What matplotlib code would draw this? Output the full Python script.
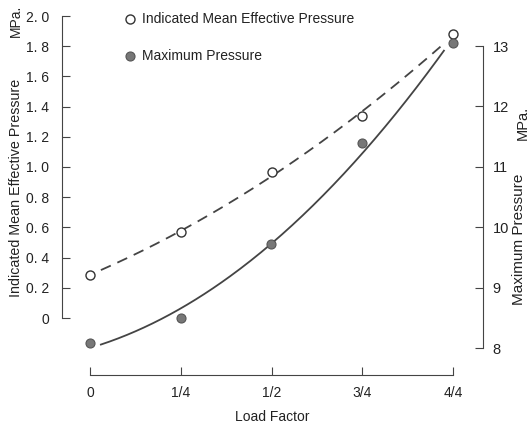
import numpy as np
import matplotlib
matplotlib.use("Agg")
import matplotlib.pyplot as plt
from matplotlib.lines import Line2D

plt.rcParams['font.family'] = ['Liberation Sans', 'DejaVu Sans']

load = [0.0, 0.25, 0.5, 0.75, 1.0]
load_labels = ['0', '1/4', '1/2', '3/4', '4/4']
imep = [0.285, 0.57, 0.967, 1.338, 1.881]      # MPa, left axis
pmax = [8.08, 8.50, 9.72, 11.39, 13.05]        # MPa, right axis
left_ticks = [0, 0.2, 0.4, 0.6, 0.8, 1.0, 1.2, 1.4, 1.6, 1.8, 2.0]
left_labels = ['0', '0. 2', '0. 4', '0. 6', '0. 8', '1. 0', '1. 2', '1. 4', '1. 6', '1. 8', '2. 0']
right_ticks = [8, 9, 10, 11, 12, 13]

W, H = 531, 424
fig = plt.figure(figsize=(W / 100, H / 100), dpi=100)
ax = fig.add_axes([62 / W, (H - 375) / H, (483 - 62) / W, (375 - 16) / H])
ax2 = ax.twinx()

col = '#444444'
tcol = '#222222'
ax.set_xlim(-28 / 363, (483 - 90) / 363)
ax.set_ylim(-57 / 151, 2.0)
ax2.set_ylim(8 - 27 / 60.4, 8 + 332 / 60.4)

# fitted curves
xs = np.linspace(0.03, 0.975, 200)
c1 = np.polyfit(load, imep, 2)
c2 = np.polyfit(load, pmax, 2)
ax.plot(xs, np.polyval(c1, xs), color=col, lw=1.3, dashes=(6, 4))
ax2.plot(xs, np.polyval(c2, xs), color=col, lw=1.3)

ax.plot(load, imep, 'o', ms=6.5, mfc='white', mec='#333333', mew=1.0, zorder=5)
ax2.plot(load, pmax, 'o', ms=6.5, mfc='#777777', mec='#555555', mew=0.8, zorder=5)

for a in (ax, ax2):
    a.spines['top'].set_visible(False)
ax.spines['right'].set_visible(False)
ax2.spines['left'].set_visible(False)
ax2.spines['bottom'].set_visible(False)
for s in ('left', 'bottom'):
    ax.spines[s].set_color(col)
ax2.spines['right'].set_color(col)
ax.spines['left'].set_bounds(0, 2.0)
ax.spines['bottom'].set_bounds(0, 1.0)
ax2.spines['right'].set_bounds(8, 13)

ax.set_xticks(load)
ax.set_xticklabels(load_labels)
ax.set_yticks(left_ticks)
ax.set_yticklabels(left_labels)
ax2.set_yticks(right_ticks)
ax.tick_params(axis='x', direction='in', length=6, color=col, labelsize=10, pad=8, labelcolor=tcol)
ax.tick_params(axis='y', direction='in', length=6, color=col, labelsize=10, pad=9, labelcolor=tcol)
ax2.tick_params(axis='y', direction='in', length=6, color=col, labelsize=10.5, pad=7, labelcolor=tcol)

ax.set_xlabel('Load Factor', fontsize=10, color=tcol, labelpad=7)

fig.text(16 / W, 1 - 188 / H, 'Indicated Mean Effective Pressure', rotation=90,
         ha='center', va='center', fontsize=10.3, color=tcol)
fig.text(16 / W, 1 - 21 / H, 'MPa.', rotation=90, ha='center', va='center',
         fontsize=10, color=tcol)
fig.text(519 / W, 1 - 239 / H, 'Maximum Pressure', rotation=90,
         ha='center', va='center', fontsize=11, color=tcol)
fig.text(523 / W, 1 - 123 / H, 'MPa.', rotation=90, ha='center', va='center',
         fontsize=10.5, color=tcol)

# legend
fig.add_artist(Line2D([130 / W], [1 - 19 / H], marker='o', ms=6.5, mfc='white',
                      mec='#333333', mew=1.0, transform=fig.transFigure))
fig.add_artist(Line2D([130 / W], [1 - 56 / H], marker='o', ms=6.5, mfc='#777777',
                      mec='#555555', mew=0.8, transform=fig.transFigure))
fig.text(142 / W, 1 - 19 / H, 'Indicated Mean Effective Pressure', ha='left',
         va='center', fontsize=10, color=tcol)
fig.text(142 / W, 1 - 56 / H, 'Maximum Pressure', ha='left', va='center',
         fontsize=10, color=tcol)

fig.savefig('out.png', dpi=100)
